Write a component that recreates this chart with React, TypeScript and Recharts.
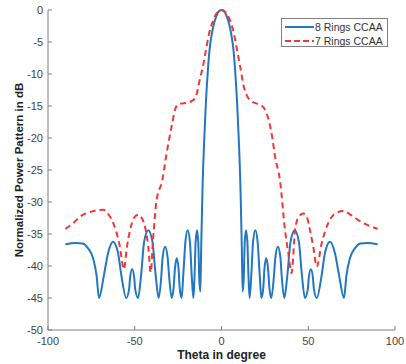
import React from "react";
import {
    LineChart,
    Line,
    XAxis,
    YAxis,
    Legend,
} from "recharts";

// 8 Rings CCAA
const theta8 = [
    -90, -84, -80, -77, -74, -72, -70.6, -67.8, -65.4, -62.5, -59.6, -57.7, -54.9,
    -53.2, -52.7, -51.5, -50.3, -49.8, -48.1, -46.3, -44.6, -42.2, -39.8, -38, -36.2,
    -34.7, -34, -32.5, -31, -30.2, -28.7, -27.6, -26.9, -25.8, -24.7, -24.1, -23,
    -22, -20.8, -19.5, -18.2, -17.2, -16.2, -15.6, -14.9, -14.1, -13.4, -12.8, -12.2,
    -11.7, -11, -10, -9, -8, -7, -6, -5, -4, -3, -2, -1, 0,
    1, 2, 3, 4, 5, 6, 7, 8, 9, 10, 11, 11.7,
    12.2, 12.8, 13.4, 14.1, 14.9, 15.6, 16.2, 17.2, 18.2, 19.5, 20.8, 22, 23,
    24.1, 24.7, 25.8, 26.9, 27.6, 28.7, 30.2, 31, 32.5, 34, 34.7, 36.2,
    38, 39.8, 42.2, 44.6, 46.3, 48.1, 49.8, 50.3, 51.5, 52.7, 53.2, 54.9,
    57.7, 59.6, 62.5, 65.4, 67.8, 70.6, 72, 74, 77, 80, 84, 90,
];
const db8 = [
    -36.6, -36.4, -36.5, -37.2, -38.8, -41.5, -45, -41.5, -38, -36.2, -38, -41.5, -45,
    -43.5, -41.8, -40.5, -41.8, -43.5, -45, -41.3, -36.2, -34.4, -36.2, -41.3, -45,
    -41.6, -38.8, -37, -38.8, -41.6, -45, -43.4, -40.6, -38.8, -40.6, -43.4, -45,
    -41.3, -36.2, -34.4, -36.2, -41.3, -45, -42, -36.2, -34.4, -36.2, -42, -44,
    -37, -28.5, -20.5, -14.5, -10, -6.5, -4.4, -2.9, -1.8, -1.0, -0.4, -0.1, 0,
    -0.1, -0.4, -1.0, -1.8, -2.9, -4.4, -6.5, -10, -14.5, -20.5, -28.5, -37,
    -44, -42, -36.2, -34.4, -36.2, -42, -45, -41.3, -36.2, -34.4, -36.2, -41.3, -45,
    -43.4, -40.6, -38.8, -40.6, -43.4, -45, -41.6, -38.8, -37, -38.8, -41.6, -45,
    -41.3, -36.2, -34.4, -36.2, -41.3, -45, -43.5, -41.8, -40.5, -41.8, -43.5, -45,
    -41.5, -38, -36.2, -38, -41.5, -45, -41.5, -38.8, -37.2, -36.5, -36.4, -36.6,
];

// 7 Rings CCAA
const theta7 = [
    -90, -85, -81.6, -75, -68, -65, -62.4, -58.9, -56.2, -54.5, -52.7, -50.5, -48,
    -46, -44.7, -42.2, -40.8, -39.5, -37.4, -34.1, -32, -30.6, -28.4, -26.8, -25.3,
    -23, -20, -17, -15.3, -14, -12.8, -10.8, -9, -7.1, -5, -3, -1.5, 0,
    1.5, 3, 5, 7.1, 9, 10.8, 12.7, 14.5, 17, 20, 23, 25.5, 27.5, 29.5, 30.8,
    33.7, 36.6, 38.5, 40.4, 42.4, 44.5, 47.2, 49.5, 51, 53, 54.9, 57.7, 61.5,
    65, 70.2, 75, 79.8, 85, 90,
];
const db7 = [
    -34.2, -33.2, -32.3, -31.5, -31.2, -32, -33.3, -36.5, -40.5, -37, -34.4, -32.5, -32,
    -32.5, -33.3, -37, -41, -36, -29.7, -26.6, -23, -20.8, -17.7, -15.6, -14.8,
    -14.6, -14.5, -14.2, -13.8, -12.8, -11.2, -8.9, -6.3, -3.6, -1.8, -0.6, -0.15, 0,
    -0.15, -0.6, -1.7, -3.6, -6.3, -8.9, -11.8, -13.3, -14.2, -14.6, -14.9, -15.8, -17.5, -20.3, -22.8,
    -26.6, -34.4, -38, -41.1, -34.4, -32.3, -31.8, -32.6, -34.4, -37.2, -40.1, -36.5, -33.3,
    -31.9, -31.4, -32.1, -33, -33.7, -34.2,
];

const xTicks = [-100, -50, 0, 50, 100];
const yTicks = [-50, -45, -40, -35, -30, -25, -20, -15, -10, -5, 0];

const name8 = "8 Rings CCAA";
const name7 = "7 Rings CCAA";
const legendOrder = [name8, name7];

const series8 = theta8.map((x, i) => ({ x, y: db8[i] }));
const series7 = theta7.map((x, i) => ({ x, y: db7[i] }));

const blue = "#2277c0";
const red = "#f53535";
const boxColor = "#808080";
const font = "'Liberation Sans', Arial, sans-serif";

const tickStyle = { fill: "#444", fontSize: 11, fontFamily: font };

function renderLegend(props: any) {
    const items = [...(props.payload || [])].sort(
        (a: any, b: any) => legendOrder.indexOf(a.value) - legendOrder.indexOf(b.value)
    );
    return (
        <div
            style={{
                position: "relative",
                boxSizing: "border-box",
                width: 107,
                height: 29,
                border: `1px solid ${boxColor}`,
                background: "#fff",
                fontFamily: font,
                fontSize: 10.5,
                color: "#333",
            }}
        >
            {items.map((entry: any, i: number) => (
                <div
                    key={entry.value}
                    style={{
                        position: "absolute",
                        left: 3,
                        top: 1 + i * 14,
                        height: 13,
                        display: "flex",
                        alignItems: "center",
                        whiteSpace: "nowrap",
                    }}
                >
                    <svg width={29} height={6} style={{ marginRight: 1 }}>
                        <line
                            x1={0}
                            y1={3}
                            x2={29}
                            y2={3}
                            stroke={entry.color}
                            strokeWidth={2}
                            strokeDasharray={entry.value === name7 ? "6 3" : undefined}
                        />
                    </svg>
                    <span>{entry.value}</span>
                </div>
            ))}
        </div>
    );
}

export default function App() {
    return (
        <div style={{ position: "absolute", left: 0, top: 0, background: "#fff" }}>
            <LineChart
                width={406}
                height={364}
                margin={{ top: 10, right: 11, left: 0, bottom: 0 }}
            >
                <XAxis
                    dataKey="x"
                    type="number"
                    domain={[-100, 100]}
                    ticks={xTicks}
                    height={34}
                    stroke={boxColor}
                    tickSize={-4}
                    tickMargin={11}
                    tick={tickStyle}
                    label={{
                        value: "Theta in degree",
                        position: "insideBottom",
                        offset: 5,
                        style: { fontWeight: "bold", fontSize: 12, fill: "#222", fontFamily: font },
                    }}
                />
                <XAxis
                    xAxisId="top"
                    dataKey="x"
                    type="number"
                    orientation="top"
                    domain={[-100, 100]}
                    ticks={xTicks}
                    height={0}
                    stroke={boxColor}
                    tickSize={-4}
                    tickFormatter={() => ""}
                />
                <YAxis
                    type="number"
                    domain={[-50, 0]}
                    ticks={yTicks}
                    width={48}
                    stroke={boxColor}
                    tickSize={-4}
                    tickMargin={9}
                    tick={tickStyle}
                    label={{
                        value: "Normalized Power Pattern in dB",
                        angle: -90,
                        position: "insideLeft",
                        offset: 19,
                        style: {
                            textAnchor: "middle",
                            fontWeight: "bold",
                            fontSize: 11.5,
                            fill: "#222",
                            fontFamily: font,
                        },
                    }}
                />
                <YAxis
                    yAxisId="right"
                    orientation="right"
                    type="number"
                    domain={[-50, 0]}
                    ticks={yTicks}
                    width={0}
                    stroke={boxColor}
                    tickSize={-4}
                    tickFormatter={() => ""}
                />
                <Legend
                    layout="horizontal"
                    align="center"
                    verticalAlign="middle"
                    content={renderLegend}
                    wrapperStyle={{ left: 281, top: 18, width: 107, height: 29 }}
                />
                <Line
                    data={series8}
                    dataKey="y"
                    name={name8}
                    type="monotone"
                    stroke={blue}
                    strokeWidth={2}
                    dot={false}
                    isAnimationActive={false}
                />
                <Line
                    data={series7}
                    dataKey="y"
                    name={name7}
                    type="monotone"
                    stroke={red}
                    strokeWidth={2}
                    strokeDasharray="6 4"
                    dot={false}
                    isAnimationActive={false}
                />
            </LineChart>
        </div>
    );
}
